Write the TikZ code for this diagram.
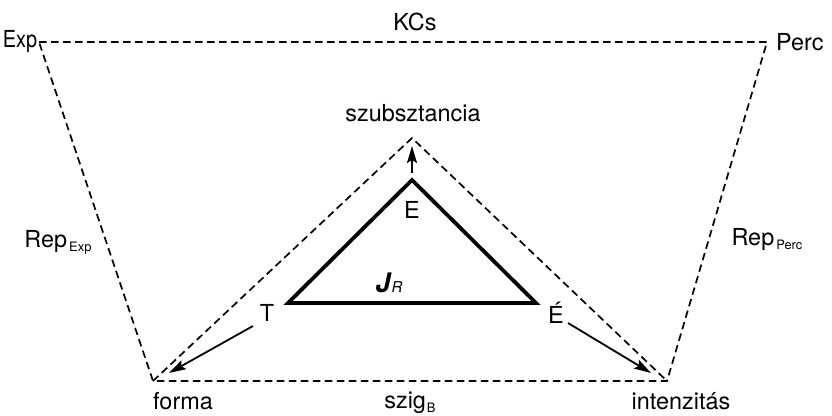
\documentclass[tikz,border=0pt]{standalone}
\usepackage{fontspec}
\setmainfont{TeX Gyre Heros}
\usetikzlibrary{arrows.meta}
\begin{document}
\begin{tikzpicture}[x=1bp,y=-1bp,
  lbl/.style={inner sep=0pt, font=\fontsize{23.5}{26}\selectfont},
  dsh/.style={line width=1.7bp, dash pattern=on 7.5bp off 4.5bp},
  tri/.style={line width=3.8bp, line join=miter},
  arr/.style={line width=1.8bp, -{Stealth[length=17bp,width=10bp,inset=3bp]}}]
\useasboundingbox (0,0) rectangle (832,415);
% corners
\coordinate (exp) at (39,42);
\coordinate (perc) at (767,42);
\coordinate (forma) at (153,381);
\coordinate (inten) at (667,381);
\coordinate (szub) at (412,138);
\coordinate (E) at (412,180);
\coordinate (T) at (288,303);
\coordinate (EE) at (536,303);
% outer dashed trapezoid
\draw[dsh] (exp) -- (perc) -- (inten) -- (forma) -- cycle;
% inner dashed triangle
\draw[dsh] (forma) -- (szub) -- (inten);
% solid triangle
\draw[tri] (E) -- (EE) -- (T) -- cycle;
% labels
\node[lbl] (lexp) at (20,42) {\scalebox{0.85}[1]{Exp}};
\node[lbl, anchor=west] (lperc) at (776,42) {Perc};
\node[lbl] (lkcs) at (415,22) {KCs};
\node[lbl] (lszub) at (413,113) {szubsztancia};
\node[lbl] (lE) at (412,210) {E};
\node[lbl] (lT) at (267,313) {T};
\node[lbl] (lEE) at (556,313) {É};
\node[lbl] (lJ) at (389,283) {{\fontsize{27}{30}\selectfont\bfseries\itshape J}\kern1bp{\fontsize{15}{17}\selectfont\itshape R}};
\node[lbl, anchor=base] (lforma) at (183,409) {forma};
\node[lbl, anchor=base] (lszig) at (410,408) {szig\kern1bp\raisebox{-4bp}{\fontsize{13}{15}\selectfont B}};
\node[lbl, anchor=base] (linten) at (681,409) {intenzitás};
\node[lbl] (lrepe) at (58,242) {Rep\kern2bp\raisebox{-4bp}{\fontsize{13}{15}\selectfont Exp}};
\node[lbl] (lrepp) at (767,240) {Rep\kern2bp\raisebox{-4bp}{\fontsize{13}{15}\selectfont Perc}};
% arrows
\coordinate (a1s) at (412,173);
\coordinate (a1e) at (412,146);
\coordinate (a2s) at (253,326);
\coordinate (a2e) at (169,373);
\coordinate (a3s) at (568,323);
\coordinate (a3e) at (651,373);
\draw[arr] (a1s) -- (a1e);
\draw[arr] (a2s) -- (a2e);
\draw[arr] (a3s) -- (a3e);
\end{tikzpicture}
\end{document}
